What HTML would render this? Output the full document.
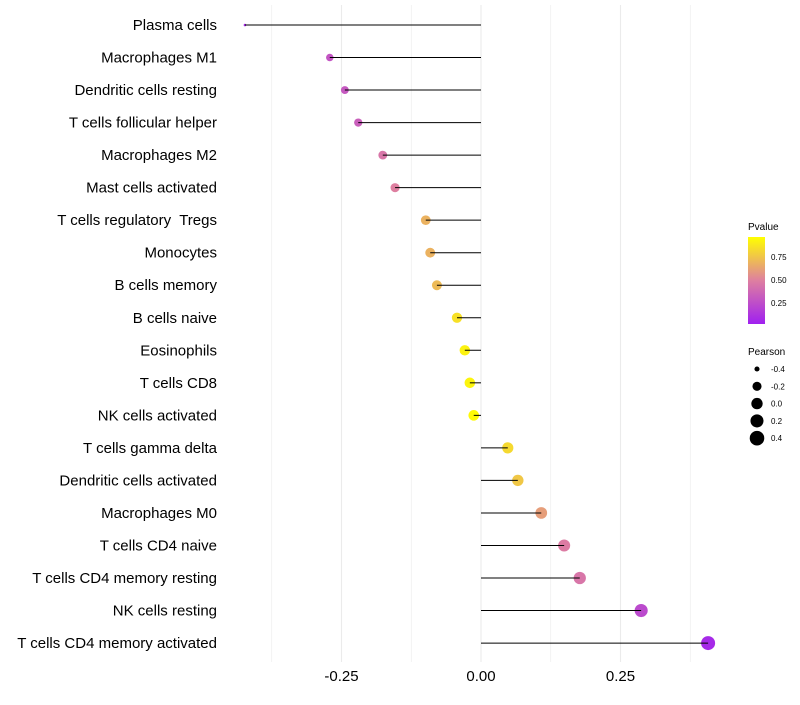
<!DOCTYPE html>
<html><head><meta charset="utf-8"><style>
body{margin:0;background:#fff;font-family:"Liberation Sans",sans-serif}
text{white-space:pre}
</style></head><body>
<svg id="chart" width="800" height="700" xmlns="http://www.w3.org/2000/svg" font-family="Liberation Sans, sans-serif">
<defs><linearGradient id="pg" x1="0" y1="1" x2="0" y2="0">
<stop offset="0" stop-color="#A020F0"/><stop offset="0.5" stop-color="#DE7FA0"/><stop offset="1" stop-color="#FFFF00"/>
</linearGradient></defs>
<g id="grid"></g>
<g id="marks"></g>
<g id="ylabels"></g>
<g id="xlabels"></g>
<g>
<text x="748" y="230" font-size="10" fill="#000">Pvalue</text>
<rect x="748" y="237" width="17" height="87" fill="url(#pg)"/>
<text x="771" y="260" font-size="8">0.75</text><text x="771" y="283" font-size="8">0.50</text><text x="771" y="306" font-size="8">0.25</text>
</g>
<g id="sizeleg">
<text x="748" y="355" font-size="10">Pearson</text>
</g>
</svg>
<script>
const categories=["Plasma cells","Macrophages M1","Dendritic cells resting","T cells follicular helper","Macrophages M2","Mast cells activated","T cells regulatory  Tregs","Monocytes","B cells memory","B cells naive","Eosinophils","T cells CD8","NK cells activated","T cells gamma delta","Dendritic cells activated","Macrophages M0","T cells CD4 naive","T cells CD4 memory resting","NK cells resting","T cells CD4 memory activated"];
const pearson=[-0.423,-0.271,-0.244,-0.220,-0.176,-0.154,-0.099,-0.091,-0.079,-0.043,-0.029,-0.020,-0.013,0.048,0.066,0.108,0.149,0.177,0.287,0.407];
const pvalue=[0.05,0.28,0.3,0.33,0.45,0.5,0.7,0.7,0.73,0.88,0.95,0.96,0.98,0.85,0.78,0.62,0.48,0.45,0.22,0.05];
const xTicks=[-0.25,0,0.25];
const xTickLabels=["-0.25","0.00","0.25"];
const minorTicks=[-0.375,-0.125,0.125,0.375];
const sizeLegend=[-0.4,-0.2,0.0,0.2,0.4];
const sizeLegendLabels=["-0.4","-0.2","0.0","0.2","0.4"];
const NS="http://www.w3.org/2000/svg";
const x=v=>481+v*558;
const y=i=>25+i*32.53;
const r=v=>1.3+5.7*Math.sqrt(Math.max(0,(v+0.423)/0.83));
function lerp(a,b,t){return a.map((c,k)=>Math.round(c+(b[k]-c)*t));}
function col(p){const s=[[160,32,240],[222,127,160],[255,255,0]];const c=p<0.5?lerp(s[0],s[1],p/0.5):lerp(s[1],s[2],(p-0.5)/0.5);return `rgb(${c})`;}
function mk(t,a,p){const e=document.createElementNS(NS,t);for(const k in a)e.setAttribute(k,a[k]);p.appendChild(e);return e;}
const g=document.getElementById('grid');
minorTicks.concat(xTicks).forEach(v=>{const l=mk('line',{x1:x(v),x2:x(v),y1:5,y2:662,stroke:'#ebebeb','stroke-width':minorTicks.includes(v)?0.6:1.1},g);

});
const m=document.getElementById('marks'),yl=document.getElementById('ylabels'),xl=document.getElementById('xlabels');
categories.forEach((c,i)=>{
const ci=mk('circle',{cx:x(pearson[i]),cy:y(i),r:r(pearson[i]),fill:col(pvalue[i])},m);


const ln=mk('line',{x1:x(0),x2:x(pearson[i]),y1:y(i),y2:y(i),stroke:'#000','stroke-width':1},m);


const t=mk('text',{x:217,y:y(i)+5,'text-anchor':'end','font-size':15,fill:'#000'},yl);t.textContent=c;


});
xTicks.forEach((v,i)=>{const t=mk('text',{x:x(v),y:681,'text-anchor':'middle','font-size':15,fill:'#000'},xl);t.textContent=xTickLabels[i];

});
const sl=document.getElementById('sizeleg');
sizeLegend.forEach((v,i)=>{const cy=369+i*17.3;
const c=mk('circle',{cx:757,cy:cy,r:r(v)+0.3,fill:'#000'},sl);


const t=mk('text',{x:771,y:cy+3,'font-size':8},sl);t.textContent=sizeLegendLabels[i];

});
</script>
</body></html>
